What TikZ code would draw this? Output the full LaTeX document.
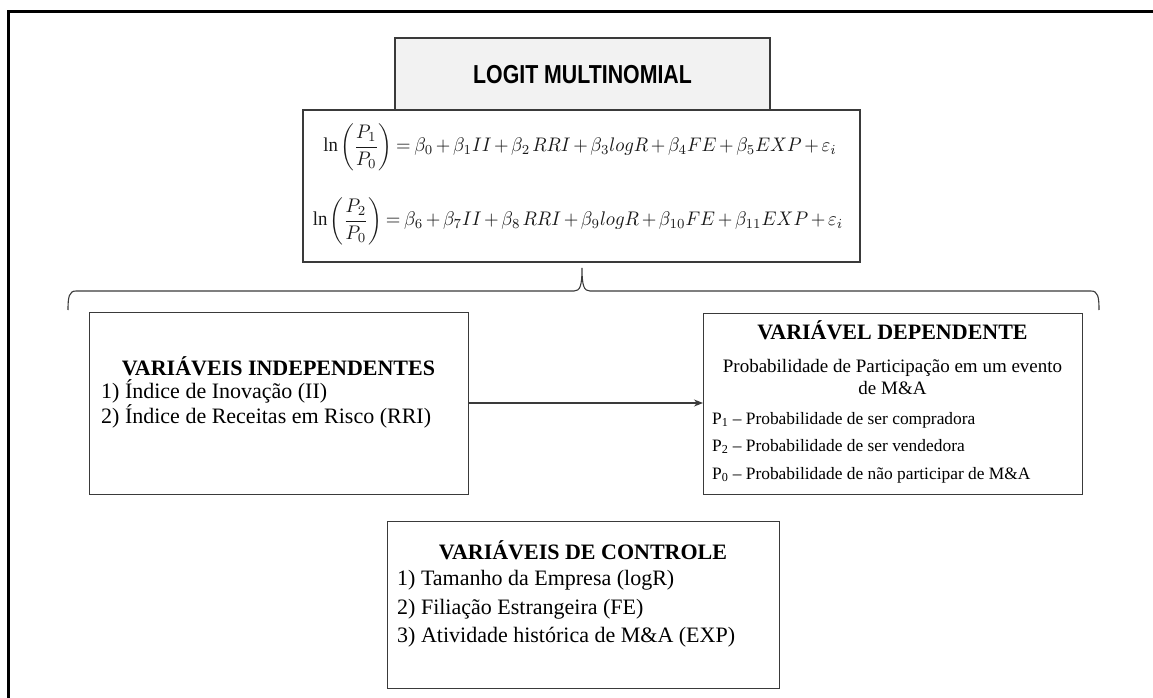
\documentclass[tikz,border=0pt]{standalone}
\usepackage{amsmath}
\usepackage{graphicx}
\usepackage{fontspec}
\setmainfont{Liberation Serif}
\newfontfamily\arialfont{Liberation Sans}
\usetikzlibrary{arrows.meta}
\definecolor{boxline}{HTML}{3A3A3A}
\definecolor{logitfill}{HTML}{F2F2F2}
\newcommand{\eqbox}[2]{\scalebox{1}[1.05]{\resizebox{#1}{!}{\thinmuskip=2mu\medmuskip=2.5mu\thickmuskip=3.5mu$#2$}}}
\tikzset{
  panel/.style={draw=boxline, line width=1.3pt},
  ttl/.style={font=\fontsize{22}{26}\selectfont\bfseries, anchor=base, inner sep=0pt},
  item/.style={font=\fontsize{22}{26}\selectfont, anchor=base west, inner sep=0pt},
  body/.style={font=\fontsize{19}{22}\selectfont, anchor=base, inner sep=0pt},
  pline/.style={font=\fontsize{17.4}{20}\selectfont, anchor=base west, inner sep=0pt},
  eqn/.style={inner sep=0pt, anchor=center, text=black!90},
  conn/.style={draw=boxline, line width=1.1pt},
}
\begin{document}
\begin{tikzpicture}[x=1pt, y=-1pt]
\useasboundingbox (0,0) rectangle (1153,698);
% outer frame (only left and top visible)
\draw[line width=3pt, line cap=rect] (8,698) -- (8,12) -- (1153,12);

% LOGIT box
\draw[panel, fill=logitfill] (395,38) rectangle (770,110);
\node[inner sep=0pt] (logit) at (582.5,75) {\arialfont\fontsize{26}{30}\selectfont\bfseries\scalebox{0.82}[1]{LOGIT MULTINOMIAL}};

% formula box
\draw[panel] (303,110) rectangle (860,262);
\node[eqn] (eq1) at (580,147) {\eqbox{513pt}{\ln\left(\dfrac{P_1}{P_0}\right) = \beta_0 + \beta_1 II + \beta_2\, RRI + \beta_3 logR + \beta_4 FE + \beta_5 EXP + \varepsilon_i}};
\node[eqn] (eq2) at (578,221) {\eqbox{530pt}{\ln\left(\dfrac{P_2}{P_0}\right) = \beta_6 + \beta_7 II + \beta_8\, RRI + \beta_9 logR + \beta_{10} FE + \beta_{11} EXP + \varepsilon_i}};

% brace
\coordinate (bl) at (68,310);
\coordinate (br) at (1099,310);
\coordinate (bt) at (582,268);
\draw[draw=boxline, line width=1.1pt] (bl) .. controls (68,297) and (69,291) .. (76,291) -- (574,291)
  .. controls (580,291) and (582,286) .. (bt)
  .. controls (582,286) and (584,291) .. (590,291) -- (1091,291)
  .. controls (1098,291) and (1099,297) .. (br);

% left box
\node[panel, minimum width=379pt, minimum height=182pt, anchor=north west, inner sep=0pt] (indep) at (89,312) {};
\node[ttl] (indepT) at (278.5,375) {VARIÁVEIS INDEPENDENTES};
\node[item] (indep1) at (101,398) {1) Índice de Inovação (II)};
\node[item] (indep2) at (101,423) {2) Índice de Receitas em Risco (RRI)};

% right box
\node[panel, minimum width=379pt, minimum height=181pt, anchor=north west, inner sep=0pt] (dep) at (703,313) {};
\node[ttl] (depT) at (892.5,339) {VARIÁVEL DEPENDENTE};
\node[body] (dep0) at (892.5,372) {Probabilidade de Participação em um evento};
\node[body] (dep0b) at (892.5,394) {de M\&A};
\node[pline] (dep1) at (712,424) {P\textsubscript{1} – Probabilidade de ser compradora};
\node[pline] (dep2) at (712,451) {P\textsubscript{2} – Probabilidade de ser vendedora};
\node[pline] (dep3) at (712,479) {P\textsubscript{0} – Probabilidade de não participar de M\&A};

% arrow
\draw[conn, -{Stealth[length=9pt, width=7pt]}] (indep.east |- 0,403) -- (dep.west |- 0,403);

% bottom box
\node[panel, minimum width=392pt, minimum height=167pt, anchor=north west, inner sep=0pt] (ctrl) at (387,521) {};
\node[ttl] (ctrlT) at (583,559) {VARIÁVEIS DE CONTROLE};
\node[item] (ctrl1) at (397,585) {1) Tamanho da Empresa (logR)};
\node[item] (ctrl2) at (397,614) {2) Filiação Estrangeira (FE)};
\node[item] (ctrl3) at (397,642) {3) Atividade histórica de M\&A (EXP)};
\end{tikzpicture}
\end{document}
